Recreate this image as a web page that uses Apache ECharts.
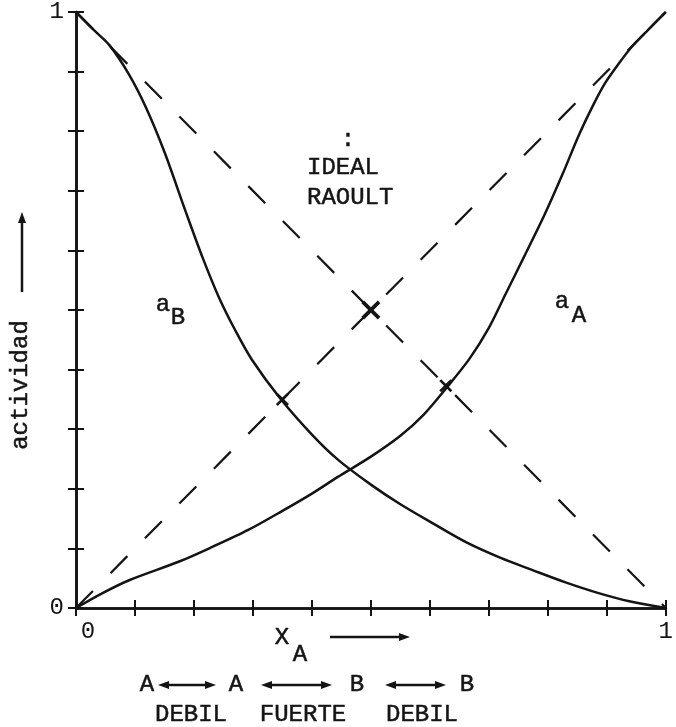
<!DOCTYPE html>
<html>
<head>
<meta charset="utf-8">
<script src="https://cdn.jsdelivr.net/npm/echarts@6/dist/echarts.min.js"></script>
<style>
html,body{margin:0;padding:0;background:#fff;}
#c{width:676px;height:727px;}
</style>
</head>
<body>
<div id="c"></div>
<script>
// ---- data ----
const aB = [[0,1],[0.03,0.97],[0.057,0.944],[0.09,0.895],[0.119,0.839],[0.15,0.765],[0.186,0.665],[0.215,0.587],[0.242,0.522],[0.27,0.466],[0.298,0.417],[0.346,0.352],[0.40,0.291],[0.444,0.249],[0.5,0.207],[0.55,0.174],[0.605,0.142],[0.662,0.110],[0.72,0.084],[0.773,0.064],[0.83,0.043],[0.886,0.025],[0.94,0.011],[1,0]];
const aA = [[0,0],[0.045,0.025],[0.091,0.047],[0.175,0.078],[0.23,0.102],[0.292,0.131],[0.35,0.163],[0.40,0.192],[0.444,0.220],[0.5,0.254],[0.55,0.289],[0.59,0.325],[0.627,0.368],[0.667,0.418],[0.70,0.47],[0.728,0.526],[0.76,0.59],[0.795,0.661],[0.825,0.728],[0.852,0.792],[0.875,0.84],[0.896,0.879],[0.92,0.913],[0.941,0.94],[0.97,0.97],[1,1]];
const raoultA = [[0,0],[1,1]];
const raoultB = [[0,1],[1,0]];
const crossBig = [[0.5,0.5]];
const crossSmall = [[0.35,0.35],[0.627,0.373]];
const tickValues = [0,1];
const tickLabels = ['0','1'];

const FONT = '"Liberation Mono","DejaVu Sans Mono",monospace';
const INK = '#141414';

function tickFmt(v){ const i = tickValues.indexOf(v); return i>=0 ? tickLabels[i] : ''; }

const chart = echarts.init(document.getElementById('c'), null, {renderer:'canvas'});

const axisCommon = {
  type:'value', min:0, max:1, interval:0.1,
  axisLine:{show:true, lineStyle:{color:INK, width:2.6}},
  axisTick:{show:true, inside:true, length:8, lineStyle:{color:INK, width:2}},
  splitLine:{show:false}
};

function arrowHead(x, y, dir){ // dir: 'r','l','u'
  const L = 11, W = 4;
  let pts;
  if(dir==='r') pts=[[x,y],[x-L,y-W],[x-L,y+W]];
  else if(dir==='l') pts=[[x,y],[x+L,y-W],[x+L,y+W]];
  else pts=[[x,y],[x-W,y+L],[x+W,y+L]];
  return {type:'polygon', shape:{points:pts}, style:{fill:INK}};
}
function hline(x1,x2,y){ return {type:'line', shape:{x1:x1,y1:y,x2:x2,y2:y}, style:{stroke:INK, lineWidth:2.5}}; }
function txt(t,x,y,opt){ return Object.assign({type:'text', x:x, y:y, style:{text:t, font:'24px '+FONT, fill:INK, align:'center', verticalAlign:'middle', stroke:INK, lineWidth:0.5}}, opt||{}); }
function ltxt(t,x,y){ return {type:'text', x:x, y:y, style:{text:t, font:'24px '+FONT, fill:INK, align:'left', verticalAlign:'middle', stroke:INK, lineWidth:0.5}}; }

const graphic = [
  // y-axis title with arrow
  txt('actividad', 21, 385, {rotation: Math.PI/2}),
  {type:'line', shape:{x1:22,y1:292,x2:22,y2:222}, style:{stroke:INK, lineWidth:2.5}},
  arrowHead(22, 212, 'u'),
  // x-axis title with arrow
  txt('X', 282, 638),
  txt('A', 300, 655),
  hline(330, 400, 637),
  arrowHead(410, 637, 'r'),
  // bottom legend rows
  txt('A', 147, 685),
  hline(168, 206, 685), arrowHead(158,685,'l'), arrowHead(216,685,'r'),
  txt('A', 236, 685),
  hline(271, 322, 685), arrowHead(261,685,'l'), arrowHead(332,685,'r'),
  txt('B', 357, 685),
  hline(395, 436, 685), arrowHead(385,685,'l'), arrowHead(446,685,'r'),
  txt('B', 467, 685),
  txt('DEBIL', 191, 715),
  txt('FUERTE', 303, 715),
  txt('DEBIL', 422, 715),
  // annotations in the plot
  txt(':', 348, 140),
  ltxt('IDEAL', 307, 168),
  ltxt('RAOULT', 307, 198),
  txt('a', 163, 305),
  txt('B', 178, 318),
  txt('a', 562, 302),
  txt('A', 579, 316)
];

const crossPath = 'path://M0,1.4L1.4,0L5,3.6L8.6,0L10,1.4L6.4,5L10,8.6L8.6,10L5,6.4L1.4,10L0,8.6L3.6,5Z';

chart.setOption({
  animation:false,
  backgroundColor:'#ffffff',
  grid:{left:76, right:5, top:11, bottom:119, containLabel:false},
  xAxis:[
    Object.assign({}, axisCommon, {position:'bottom',
      axisLabel:{show:true, formatter:function(v){ const t=tickFmt(v); return t==='' ? '' : (v===0 ? '{z|'+t+'}' : '{n|'+t+'}'); },
        margin:12, color:INK, fontFamily:FONT, fontSize:24,
        rich:{z:{fontFamily:FONT, fontSize:24, color:INK, padding:[0,0,0,24]}, n:{fontFamily:FONT, fontSize:24, color:INK}}}}),
    Object.assign({}, axisCommon, {position:'top', axisLabel:{show:false}})
  ],
  yAxis:[
    Object.assign({}, axisCommon, {position:'left',
      axisLabel:{show:true, formatter:tickFmt, margin:12, color:INK, fontFamily:FONT, fontSize:24}}),
    Object.assign({}, axisCommon, {position:'right', axisLabel:{show:false}})
  ],
  series:[
    {type:'line', data:raoultA, showSymbol:false, lineStyle:{color:INK, width:2.2, type:[24,25]}, z:2},
    {type:'line', data:raoultB, showSymbol:false, lineStyle:{color:INK, width:2.2, type:[24,25]}, z:2},
    {type:'line', data:aB, smooth:0.3, showSymbol:false, lineStyle:{color:INK, width:2.5}, z:3},
    {type:'line', data:aA, smooth:0.3, showSymbol:false, lineStyle:{color:INK, width:2.5}, z:3},
    {type:'scatter', data:crossBig, symbol:crossPath, symbolSize:19, itemStyle:{color:INK, opacity:1}, z:4},
    {type:'scatter', data:crossSmall, symbol:crossPath, symbolSize:13, itemStyle:{color:INK, opacity:1}, z:4}
  ],
  graphic: graphic
});
</script>
</body>
</html>
